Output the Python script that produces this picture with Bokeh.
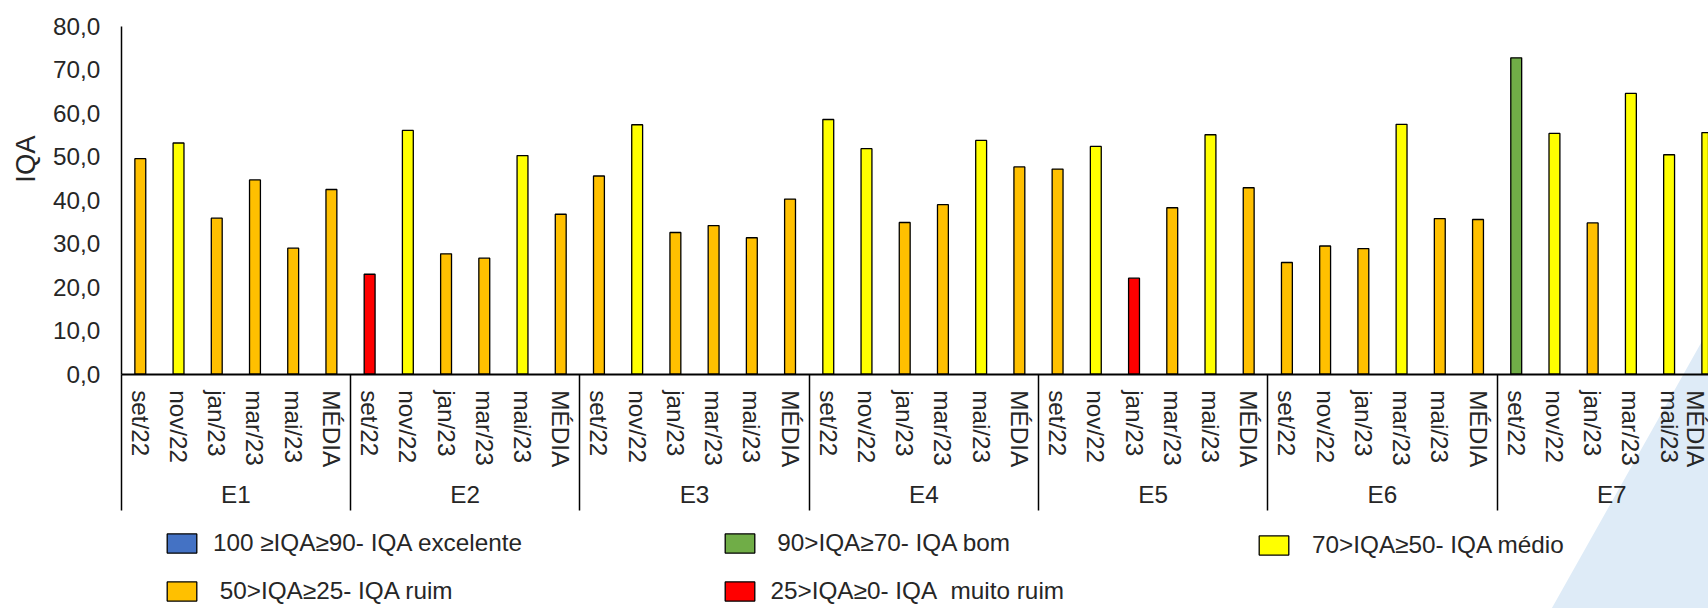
import math

from bokeh.core.properties import value
from bokeh.embed import file_html
from bokeh.models import (ColumnDataSource, FixedTicker, Legend, LegendItem,
                          LinearAxis, Range1d)
from bokeh.plotting import figure
from bokeh.resources import INLINE

# ---- data -------------------------------------------------------------
groups = ["E1", "E2", "E3", "E4", "E5", "E6", "E7"]
periods = ["set/22", "nov/22", "jan/23", "mar/23", "mai/23", "MÉDIA"]

iqa_e1 = [49.6, 53.2, 35.9, 44.7, 29.0, 42.5]
iqa_e2 = [23.0, 56.1, 27.7, 26.7, 50.3, 36.8]
iqa_e3 = [45.6, 57.4, 32.6, 34.2, 31.4, 40.3]
iqa_e4 = [58.6, 51.9, 34.9, 39.0, 53.8, 47.7]
iqa_e5 = [47.2, 52.4, 22.1, 38.3, 55.1, 42.9]
iqa_e6 = [25.7, 29.5, 28.9, 57.5, 35.8, 35.6]
iqa_e7 = [72.8, 55.4, 34.8, 64.6, 50.5, 55.6]

y_ticks = [0, 10, 20, 30, 40, 50, 60, 70, 80]
y_tick_labels = ["0,0", "10,0", "20,0", "30,0", "40,0", "50,0", "60,0", "70,0", "80,0"]

# IQA quality classes (lower bound of each class)
class_labels = [
    "100 ≥IQA≥90- IQA excelente",
    "\u00a090>IQA≥70- IQA bom",
    "\u00a070>IQA≥50- IQA médio",
    "\u00a050>IQA≥25- IQA ruim",
    "25>IQA≥0- IQA\u00a0 muito ruim",
]
class_colors = ["#4472C4", "#70AD47", "#FFFF00", "#FFC000", "#FF0000"]
class_floor = [90, 70, 50, 25, 0]

# ---- layout -----------------------------------------------------------
W, H = 1708, 608
ORIGIN_X = 120.7      # pixel column of the value axis
SLOT = 38.22          # pixels per bar slot
BASE_Y = 373.7        # pixel row of IQA = 0
UNIT = 4.346          # pixels per IQA unit
FONT = "Liberation Sans"
TXT = "#262626"
FS = "24.3px"


def dx(px):
    return (px - ORIGIN_X) / SLOT


def dy(py):
    return (BASE_Y - py) / UNIT


series = [iqa_e1, iqa_e2, iqa_e3, iqa_e4, iqa_e5, iqa_e6, iqa_e7]
n_per = len(periods)

bar_x, bar_top, bar_cls = [], [], []
for gi, vals in enumerate(series):
    for mi, v in enumerate(vals):
        bar_x.append(gi * n_per + mi + 0.5)
        bar_top.append(v)
        bar_cls.append(next(k for k, f in enumerate(class_floor) if v >= f))

p = figure(width=W, height=H, output_backend="svg", toolbar_location=None,
           x_range=Range1d(dx(0), dx(W)), y_range=Range1d(dy(H), dy(0)),
           x_axis_location=None, y_axis_location=None,
           min_border=0, outline_line_color=None)
p.grid.visible = False
p.background_fill_color = "white"
p.border_fill_color = "white"

# light backdrop shape in the lower right corner
p.patch(x=[dx(1550), dx(1712), dx(1712)], y=[dy(610), dy(322), dy(610)],
        fill_color="#DEEBF7", line_color=None)

# bars, one renderer per IQA class (a class without bars keeps a NaN row
# so that its legend swatch is still painted)
renderers = []
for k in range(len(class_labels)):
    xs = [x for x, c in zip(bar_x, bar_cls) if c == k]
    tops = [t for t, c in zip(bar_top, bar_cls) if c == k]
    if not xs:
        xs, tops = [float("nan")], [float("nan")]
    src = ColumnDataSource(dict(x=xs, top=tops))
    r = p.vbar(x="x", top="top", bottom=0, width=0.285, source=src,
               fill_color=class_colors[k], line_color="black", line_width=1.3)
    renderers.append(r)


def style_labels(axis):
    axis.major_label_text_font = FONT
    axis.major_label_text_font_size = FS
    axis.major_label_text_color = TXT


# value axis
yaxis = LinearAxis(fixed_location=0, bounds=(0, 80),
                   ticker=FixedTicker(ticks=y_ticks, minor_ticks=[]),
                   major_label_overrides={t: s for t, s in zip(y_ticks, y_tick_labels)})
yaxis.major_tick_out = 0
yaxis.major_tick_in = 0
yaxis.minor_tick_line_color = None
yaxis.axis_line_width = 1.5
yaxis.axis_line_color = "black"
yaxis.major_label_standoff = 21
style_labels(yaxis)
p.add_layout(yaxis, "left")

n_total = len(groups) * n_per

# group separators: long ticks hanging below the baseline
sep_ticks = [g * n_per for g in range(len(groups) + 1)]
saxis = LinearAxis(fixed_location=0, bounds=(0, n_total),
                   ticker=FixedTicker(ticks=sep_ticks, minor_ticks=[]))
saxis.axis_line_color = None
saxis.major_tick_in = 0
saxis.major_tick_out = 136
saxis.major_tick_line_width = 1.5
saxis.major_tick_line_color = "black"
saxis.minor_tick_line_color = None
saxis.major_label_text_color = None
p.add_layout(saxis, "below")

# period axis
period_ticks = [i + 0.5 for i in range(n_total)]
xaxis = LinearAxis(fixed_location=0, bounds=(0, n_total),
                   ticker=FixedTicker(ticks=period_ticks, minor_ticks=[]),
                   major_label_overrides={t: periods[i % n_per] for i, t in enumerate(period_ticks)})
xaxis.major_label_orientation = "vertical"
xaxis.major_tick_out = 0
xaxis.major_tick_in = 0
xaxis.minor_tick_line_color = None
xaxis.axis_line_width = 2
xaxis.axis_line_color = "black"
xaxis.major_label_standoff = 16
style_labels(xaxis)
p.add_layout(xaxis, "below")

# group (station) labels
group_ticks = [g * n_per + n_per / 2 for g in range(len(groups))]
gaxis = LinearAxis(fixed_location=0, bounds=(0, n_total),
                   ticker=FixedTicker(ticks=group_ticks, minor_ticks=[]),
                   major_label_overrides={t: g for t, g in zip(group_ticks, groups)})
gaxis.axis_line_color = None
gaxis.major_tick_out = 0
gaxis.major_tick_in = 0
gaxis.major_tick_line_color = None
gaxis.minor_tick_line_color = None
gaxis.major_label_standoff = 107
style_labels(gaxis)
p.add_layout(gaxis, "below")

# axis title
p.text(x=[dx(25)], y=[dy(158.5)], text=["IQA"], angle=math.pi / 2,
       text_align="center", text_baseline="middle",
       text_font=value(FONT), text_font_size="27.5px", text_color=TXT)

# legend, three columns
columns = [[0, 3], [1, 4], [2]]
col_left = [163.0, 720.5, 1255.3]
row_h = 26
row_gap = 20
top_px = 532.5
for cols, left in zip(columns, col_left):
    items = [LegendItem(label=class_labels[k], renderers=[renderers[k]]) for k in cols]
    height = len(cols) * row_h + (len(cols) - 1) * row_gap
    leg = Legend(items=items, location=(left, H - (top_px + height)),
                 orientation="vertical", padding=0, margin=0, spacing=row_gap,
                 glyph_width=37, glyph_height=24, label_height=row_h,
                 label_standoff=13, label_text_font=FONT, label_text_font_size=FS,
                 label_text_color=TXT, background_fill_alpha=0, border_line_alpha=0)
    p.add_layout(leg, "center")

open("out.html", "w").write(file_html(p, INLINE))
